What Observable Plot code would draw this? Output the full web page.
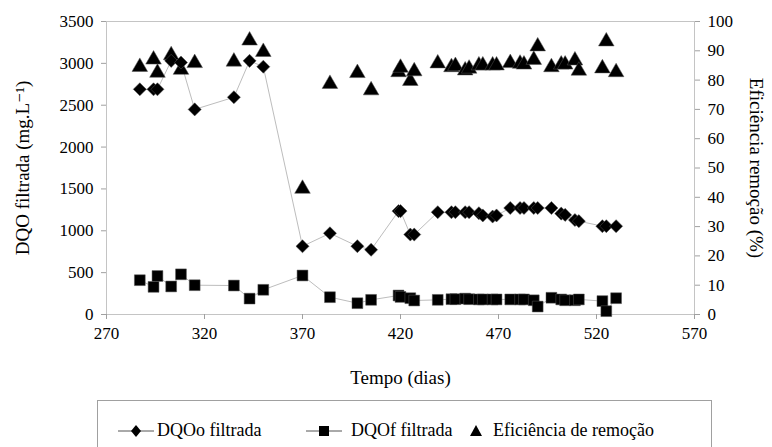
<!DOCTYPE html>
<html>
<head>
<meta charset="utf-8">
<script src="https://cdn.jsdelivr.net/npm/d3@7"></script>
<script src="https://cdn.jsdelivr.net/npm/@observablehq/plot@0.6"></script>
<style>
  html, body { margin: 0; padding: 0; background: white; }
  #wrap { position: relative; width: 772px; height: 447px; overflow: hidden; font-family: "Liberation Serif", "Times New Roman", Times, "DejaVu Serif", serif; }
  #wrap svg text { font-family: "Liberation Serif", "Times New Roman", Times, "DejaVu Serif", serif; }
  #legend { position: absolute; left: 97px; top: 400px; width: 615px; height: 70px; border: 1px solid #a0a0a0; box-sizing: border-box; }
  .li { position: absolute; top: 18px; font-size: 18px; line-height: 22px; color: black; white-space: nowrap; }
  .ls { position: absolute; top: 19px; }
</style>
</head>
<body>
<div id="wrap">
  <div id="chart"></div>
  <div id="legend"></div>
</div>
<script>
// Days of operation
const days = [287, 294, 296, 303, 308, 315, 335, 343, 350, 370, 384, 398, 405, 419, 420, 425, 427, 439, 446, 448, 453, 455, 460, 462, 467, 469, 476, 481, 483, 488, 490, 497, 502, 504, 509, 511, 523, 525, 530];
// DQOo filtrada (mg/L)
const dqoO = [2690, 2690, 2690, 3030, 3010, 2450, 2595, 3030, 2960, 815, 970, 816, 773, 1235, 1235, 955, 955, 1222, 1222, 1222, 1222, 1222, 1210, 1183, 1170, 1183, 1272, 1272, 1272, 1272, 1272, 1272, 1205, 1190, 1128, 1115, 1055, 1055, 1055];
// DQOf filtrada (mg/L)
const dqoF = [410, 330, 460, 335, 480, 350, 346, 190, 295, 466, 207, 135, 175, 227, 210, 195, 167, 175, 183, 183, 190, 183, 180, 180, 180, 180, 180, 180, 180, 170, 95, 200, 180, 170, 170, 180, 160, 40, 195];
// Eficiência de remoção (%)
const efic = [84.5, 87, 82.5, 88.5, 83.5, 85.8, 86.3, 93.5, 89.6, 42.9, 78.7, 82.4, 76.5, 82.7, 84.2, 79.7, 83, 85.7, 84.4, 84.8, 83.3, 83.9, 85, 85, 85, 85, 85.8, 85.6, 85.3, 86.9, 91.5, 84.4, 85.3, 85.3, 86.7, 83.2, 84, 93.2, 82.7];

const xTicks = [270, 320, 370, 420, 470, 520, 570];
const yLeftTicks = [0, 500, 1000, 1500, 2000, 2500, 3000, 3500];
const yRightTicks = [0, 10, 20, 30, 40, 50, 60, 70, 80, 90, 100];

const leftMax = 3500, rightMax = 100;
const k = leftMax / rightMax;
const FONT = "Liberation Serif, Times New Roman, DejaVu Serif, serif";

const rows = days.map((d, i) => ({day: d, o: dqoO[i], f: dqoF[i], e: efic[i]}));

const chart = Plot.plot({
  width: 772,
  height: 400,
  marginLeft: 106,
  marginRight: 78,
  marginTop: 21,
  marginBottom: 86,
  style: {fontFamily: FONT, fontSize: "17px", background: "white", color: "black"},
  x: {domain: [270, 570]},
  y: {domain: [0, leftMax]},
  marks: [
    Plot.frame({stroke: "#c4c4c4"}),
    Plot.axisX({ticks: xTicks, tickFormat: d3.format("d"), tickSize: 5, tickPadding: 7, stroke: "#a0a0a0", fill: "black", fontSize: 17, fontFamily: FONT, label: null}),
    Plot.axisY({ticks: yLeftTicks, tickFormat: d3.format("d"), tickSize: 5, tickPadding: 8, stroke: "#a0a0a0", fill: "black", fontSize: 17, fontFamily: FONT, label: null}),
    Plot.axisY({anchor: "right", ticks: yRightTicks.map(v => v * k), tickFormat: v => String(Math.round(v / k)), tickSize: 5, tickPadding: 8, stroke: "#a0a0a0", fill: "black", fontSize: 17, fontFamily: FONT, label: null}),
    Plot.text(["Tempo (dias)"], {frameAnchor: "bottom", textAnchor: "middle", dy: 69, fontSize: 19, fontFamily: FONT, fill: "black"}),
    Plot.text(["DQO filtrada (mg.L\u207B\u00B9)"], {frameAnchor: "left", textAnchor: "middle", dx: -84, rotate: -90, fontSize: 19, fontFamily: FONT, fill: "black"}),
    Plot.text(["Eficiência remoção (%)"], {frameAnchor: "right", textAnchor: "middle", dx: 62, rotate: 90, fontSize: 19, fontFamily: FONT, fill: "black"}),
    Plot.line(rows, {x: "day", y: "o", stroke: "#bdbdbd", strokeWidth: 1}),
    Plot.line(rows, {x: "day", y: "f", stroke: "#bdbdbd", strokeWidth: 1}),
    Plot.dot(rows, {x: "day", y: d => d.e * k, symbol: "triangle", r: 5.8, fill: "black", stroke: "#555", strokeWidth: 0.5}),
    Plot.dot(rows, {x: "day", y: "o", symbol: "diamond2", r: 5.9, fill: "black", stroke: "#555", strokeWidth: 0.5}),
    Plot.dot(rows, {x: "day", y: "f", symbol: "square", r: 6.1, fill: "black", stroke: "#555", strokeWidth: 0.5})
  ]
});
document.getElementById("chart").appendChild(chart);

// Legend
const legend = document.getElementById("legend");
const items = [
  {label: "DQOo filtrada", sym: "diamond", lineX: 20, textX: 59},
  {label: "DQOf filtrada", sym: "square", lineX: 208, textX: 253},
  {label: "Eficiência de remoção", sym: "triangle", lineX: null, textX: 395}
];
items.forEach(it => {
  const s = document.createElementNS("http://www.w3.org/2000/svg", "svg");
  const w = 40, h = 22;
  s.setAttribute("width", w); s.setAttribute("height", h);
  s.setAttribute("class", "ls");
  s.style.left = (it.lineX !== null ? it.lineX : it.textX - 35) + "px";
  let inner = "";
  if (it.lineX !== null) inner += `<line x1="0" x2="${w - 4}" y1="11" y2="11" stroke="#555" stroke-width="1"/>`;
  const cx = it.lineX !== null ? (w - 4) / 2 : 18;
  if (it.sym === "diamond") inner += `<path d="M${cx},5 L${cx + 5},11 L${cx},17 L${cx - 5},11Z" fill="black"/>`;
  if (it.sym === "square") inner += `<rect x="${cx - 5}" y="6" width="10" height="10" fill="black"/>`;
  if (it.sym === "triangle") inner += `<path d="M${cx},5 L${cx + 6},16 L${cx - 6},16Z" fill="black"/>`;
  s.innerHTML = inner;
  legend.appendChild(s);
  const t = document.createElement("div");
  t.className = "li";
  t.style.left = it.textX + "px";
  t.textContent = it.label;
  legend.appendChild(t);
});
</script>
</body>
</html>
